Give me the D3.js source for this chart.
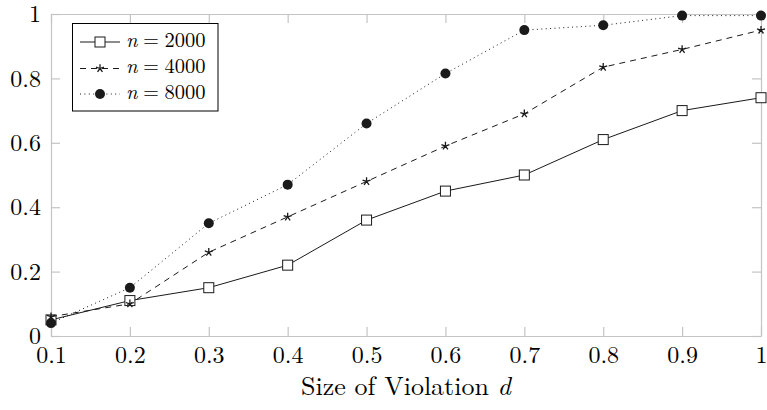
<!DOCTYPE html>
<html>
<head>
<meta charset="utf-8">
<script src="https://cdn.jsdelivr.net/npm/d3@7"></script>
<style>
  body { margin: 0; background: #fff; }
  svg { display: block; }
</style>
</head>
<body>
<div id="chart"></div>
<script>
const WIDTH = 767;
const HEIGHT = 410;
const FONT = "'Latin Modern Roman'";

// data
const sizes = [0.1, 0.2, 0.3, 0.4, 0.5, 0.6, 0.7, 0.8, 0.9, 1.0];
const n2000 = [0.05, 0.11, 0.15, 0.22, 0.36, 0.45, 0.50, 0.61, 0.70, 0.74];
const n4000 = [0.06, 0.10, 0.26, 0.37, 0.48, 0.59, 0.69, 0.835, 0.89, 0.95];
const n8000 = [0.04, 0.15, 0.35, 0.47, 0.66, 0.815, 0.95, 0.965, 0.995, 0.995];
const xTicks = [0.1, 0.2, 0.3, 0.4, 0.5, 0.6, 0.7, 0.8, 0.9, 1];
const yTicks = [0, 0.2, 0.4, 0.6, 0.8, 1];
const seriesNames = ["2000", "4000", "8000"];

const margin = {left: 51, right: 6, top: 14, bottom: 74};

const svg = d3.select('#chart').append('svg')
  .attr('width', WIDTH)
  .attr('height', HEIGHT);

const x = d3.scaleLinear().domain([0.1, 1]).range([margin.left, WIDTH - margin.right]);
const y = d3.scaleLinear().domain([0, 1]).range([HEIGHT - margin.bottom, margin.top]);

const fmt = d => d === 0 ? '0' : d === 1 ? '1' : d3.format('.1f')(d);
const axisColor = '#c4c4c4';

// axes, ticks point inward on all four sides
const gx = svg.append('g')
  .attr('transform', 'translate(0,' + y(0) + ')')
  .call(d3.axisBottom(x).tickValues(xTicks).tickFormat(fmt).tickSizeInner(-9).tickSizeOuter(0));
const gxTop = svg.append('g')
  .attr('transform', 'translate(0,' + y(1) + ')')
  .call(d3.axisTop(x).tickValues(xTicks).tickFormat('').tickSizeInner(-9).tickSizeOuter(0));
const gy = svg.append('g')
  .attr('transform', 'translate(' + x(0.1) + ',0)')
  .call(d3.axisLeft(y).tickValues(yTicks).tickFormat(fmt).tickSizeInner(-9).tickSizeOuter(0));
const gyRight = svg.append('g')
  .attr('transform', 'translate(' + x(1) + ',0)')
  .call(d3.axisRight(y).tickValues(yTicks).tickFormat('').tickSizeInner(-9).tickSizeOuter(0));

[gx, gxTop, gy, gyRight].forEach(g => {
  g.select('.domain').attr('stroke', axisColor).attr('stroke-width', 1.2);
  g.selectAll('.tick line').attr('stroke', axisColor).attr('stroke-width', 1.2);
  g.selectAll('.tick text').attr('font-size', 24).attr('fill', '#000')
    .style('font-family', FONT);
});
gx.selectAll('.tick text').attr('y', 26.7).attr('dy', 0);
gy.selectAll('.tick text').attr('x', -10).attr('dy', '0.32em');

// axis label
const xl = svg.append('text')
  .attr('x', (x(0.1) + x(1)) / 2)
  .attr('y', 395)
  .attr('text-anchor', 'middle')
  .attr('font-size', 26)
  .style('font-family', FONT);
xl.append('tspan').text('Size of Violation ');
xl.append('tspan').attr('font-style', 'italic').text('d');

// lines
const lineStyles = [
  {values: n2000, dash: null, mark: 'square'},
  {values: n4000, dash: '6,5', mark: 'star'},
  {values: n8000, dash: '1,3.4', mark: 'circle'}
];

const line = d3.line()
  .x((d, i) => x(sizes[i]))
  .y(d => y(d));

function drawMark(g, type, cx, cy) {
  if (type === 'square') {
    g.append('rect')
      .attr('x', cx - 5).attr('y', cy - 5)
      .attr('width', 10).attr('height', 10)
      .attr('fill', '#fff').attr('stroke', '#1a1a1a').attr('stroke-width', 1);
  } else if (type === 'circle') {
    g.append('circle')
      .attr('cx', cx).attr('cy', cy).attr('r', 5)
      .attr('fill', '#1a1a1a');
  } else {
    let p = '';
    for (let k = 0; k < 5; k++) {
      const a = -Math.PI / 2 + k * 2 * Math.PI / 5;
      p += 'M' + cx + ',' + cy + 'L' + (cx + 4.2 * Math.cos(a)) + ',' + (cy + 4.2 * Math.sin(a));
    }
    g.append('path').attr('d', p).attr('stroke', '#1a1a1a').attr('stroke-width', 1.3).attr('fill', 'none');
  }
}

lineStyles.forEach(s => {
  svg.append('path')
    .datum(s.values)
    .attr('d', line)
    .attr('fill', 'none')
    .attr('stroke', '#1a1a1a')
    .attr('stroke-width', 1)
    .attr('stroke-dasharray', s.dash);
  const gm = svg.append('g');
  s.values.forEach((v, i) => drawMark(gm, s.mark, x(sizes[i]), y(v)));
});

// legend
const legend = svg.append('g');
legend.append('rect')
  .attr('x', 72.5).attr('y', 23.5)
  .attr('width', 145.5).attr('height', 87.5)
  .attr('fill', '#fff').attr('stroke', '#000').attr('stroke-width', 1);
const legendY = [42, 68.5, 94];
lineStyles.forEach((s, i) => {
  const ly = legendY[i];
  legend.append('line')
    .attr('x1', 80).attr('x2', 120).attr('y1', ly).attr('y2', ly)
    .attr('stroke', '#1a1a1a').attr('stroke-width', 1)
    .attr('stroke-dasharray', s.dash);
  drawMark(legend, s.mark, 100, ly);
  const t = legend.append('text')
    .attr('x', 126).attr('y', ly + 4.5)
    .attr('font-size', 20.5)
    .style('font-family', FONT);
  t.append('tspan').attr('font-style', 'italic').text('n');
  t.append('tspan').attr('dx', 5.5).text('=');
  t.append('tspan').attr('dx', 5.5).text(seriesNames[i]);
});
</script>
</body>
</html>
